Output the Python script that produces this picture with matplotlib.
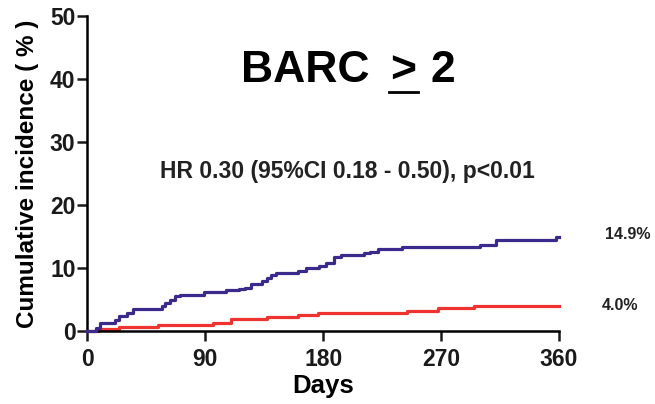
import numpy as np
import matplotlib
matplotlib.use("Agg")
import matplotlib.pyplot as plt
from matplotlib.lines import Line2D

plt.rcParams['font.family'] = ['Liberation Sans', 'DejaVu Sans']
plt.rcParams['font.weight'] = 'bold'

# step curves (day, cumulative incidence %)
blue_days = [0, 7, 10, 21, 24, 30, 35, 57, 59, 63, 67, 71, 89, 106, 116, 120, 125, 133,
             137, 140, 144, 161, 167, 177, 182, 188, 194, 211, 216, 222, 240, 300, 312, 358, 360]
blue_vals = [0, 0.4, 1.2, 1.8, 2.4, 2.8, 3.5, 4.0, 4.5, 4.9, 5.5, 5.7, 6.2, 6.5, 6.7, 6.9, 7.4, 7.9,
             8.4, 8.9, 9.2, 9.6, 10.0, 10.3, 10.8, 11.7, 12.1, 12.4, 12.6, 13.0, 13.3, 13.7, 14.5, 14.9, 14.9]

red_days = [0, 8, 24, 54, 96, 110, 137, 161, 176, 244, 268, 272, 295, 360]
red_vals = [0, 0.3, 0.7, 1.0, 1.3, 1.9, 2.3, 2.5, 2.8, 3.2, 3.6, 3.7, 4.0, 4.0]

x_ticks = [0, 90, 180, 270, 360]
y_ticks = [0, 10, 20, 30, 40, 50]
end_labels = ['14.9%', '4.0%']

blue_col = '#3b2a8c'
red_col = '#ee3330'

fig = plt.figure(figsize=(6.55, 4.04), dpi=100)
ax = fig.add_axes([0.1333, 0.1807, 0.8534 - 0.1333, 0.9604 - 0.1807])

ax.step(blue_days, blue_vals, where='post', color=blue_col, lw=2.3, zorder=3, clip_on=False)
ax.step(red_days, red_vals, where='post', color=red_col, lw=2.3, zorder=2, clip_on=False)

ax.set_xlim(0, 360)
ax.set_ylim(0, 50)
ax.set_xticks(x_ticks)
ax.set_yticks(y_ticks)
for s in ['top', 'right']:
    ax.spines[s].set_visible(False)
for s in ['left', 'bottom']:
    ax.spines[s].set_linewidth(1.8)
ax.tick_params(direction='out', length=7.5, width=1.8, labelsize=16.5, colors='#1a1a1a')
ax.tick_params(axis='x', pad=5)
ax.tick_params(axis='y', pad=1)
for lab in ax.get_xticklabels() + ax.get_yticklabels():
    lab.set_fontweight('bold')

ax.set_xlabel('Days', fontsize=18.5, fontweight='bold', labelpad=2)
ax.set_ylabel('Cumulative incidence ( % )', fontsize=17.5, fontweight='bold', labelpad=8)

# title: BARC, underlined >, 2
fig.text(305 / 655, 1 - 71 / 404, 'BARC', fontsize=32, fontweight='bold', ha='center', va='center')
fig.text(403.5 / 655, 1 - 71 / 404, '>', fontsize=32, fontweight='bold', ha='center', va='center')
fig.text(442.5 / 655, 1 - 71 / 404, '2', fontsize=32, fontweight='bold', ha='center', va='center')
fig.add_artist(Line2D([389 / 655, 418 / 655], [1 - 91.7 / 404] * 2, color='black', lw=2.0))

fig.text(347.5 / 655, 1 - 172 / 404, 'HR 0.30 (95%CI 0.18 - 0.50), p<0.01', fontsize=16.5,
         fontweight='bold', ha='center', va='center', color='#222222')

ax.text(395, blue_vals[-1] + 0.4, end_labels[0], fontsize=11.5, fontweight='bold',
        ha='left', va='center', color='#222222', clip_on=False)
ax.text(393, red_vals[-1], end_labels[1], fontsize=11.5, fontweight='bold',
        ha='left', va='center', color='#222222', clip_on=False)

fig.savefig('out.png', dpi=100)
